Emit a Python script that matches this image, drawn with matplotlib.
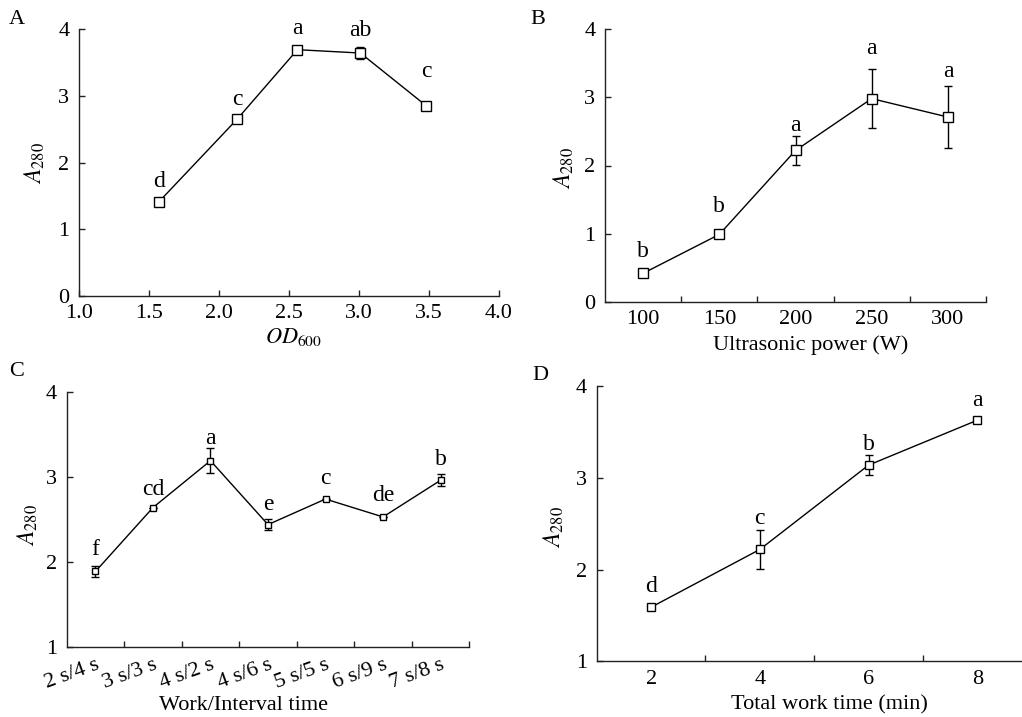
import matplotlib
matplotlib.use("Agg")
import matplotlib.pyplot as plt
import numpy as np

plt.rcParams['font.family'] = ['Liberation Serif', 'DejaVu Serif']
plt.rcParams['mathtext.fontset'] = 'stix'
plt.rcParams['font.size'] = 16

# panel A
A_x = [1.57, 2.13, 2.56, 3.01, 3.48]
A_y = [1.41, 2.65, 3.69, 3.64, 2.85]
A_err = [0.04, 0.04, 0.06, 0.09, 0.03]
A_let = ['d', 'c', 'a', 'ab', 'c']
A_let_y = [1.72, 2.94, 4.00, 3.98, 3.36]

# panel B
B_cat = ['100', '150', '200', '250', '300']
B_y = [0.42, 0.99, 2.22, 2.98, 2.71]
B_err = [0.0, 0.0, 0.21, 0.43, 0.45]
B_let = ['b', 'b', 'a', 'a', 'a']
B_let_y = [0.74, 1.40, 2.58, 3.72, 3.37]

# panel C
C_cat = ['2 s/4 s', '3 s/3 s', '4 s/2 s', '4 s/6 s', '5 s/5 s', '6 s/9 s', '7 s/8 s']
C_y = [1.89, 2.64, 3.19, 2.44, 2.74, 2.53, 2.96]
C_err = [0.06, 0.0, 0.15, 0.06, 0.0, 0.0, 0.07]
C_let = ['f', 'cd', 'a', 'e', 'c', 'de', 'b']
C_let_y = [2.15, 2.85, 3.45, 2.68, 2.98, 2.78, 3.20]

# panel D
D_cat = ['2', '4', '6', '8']
D_y = [1.59, 2.22, 3.14, 3.63]
D_err = [0.0, 0.21, 0.11, 0.0]
D_let = ['d', 'c', 'b', 'a']
D_let_y = [1.82, 2.56, 3.37, 3.84]

W, H = 1022, 717
fig = plt.figure(figsize=(W / 100, H / 100), dpi=100)


def mkax(l, r, t, b):
    return fig.add_axes([l / W, 1 - b / H, (r - l) / W, (b - t) / H])


def style(ax):
    for s in ['top', 'right']:
        ax.spines[s].set_visible(False)
    for s in ['left', 'bottom']:
        ax.spines[s].set_linewidth(1.0)
        ax.spines[s].set_color('#222222')
    ax.tick_params(which='both', direction='in', length=4, width=1.0, color='#222222')
    ax.tick_params(axis='y', pad=7)
    ax.tick_params(axis='x', pad=6)


def draw(ax, x, y, err, ms):
    ax.errorbar(x, y, yerr=err, fmt='-s', color='black', mfc='white', mec='black',
                ms=ms, mew=1.0, lw=1.0, elinewidth=1.0, capsize=3, capthick=1.0,
                clip_on=False)


def letters(ax, x, lets, ly):
    for xi, t, yi in zip(x, lets, ly):
        ax.text(xi, yi, t, ha='center', va='center', fontsize=17)


def cat_axis(ax, cats):
    n = len(cats)
    ax.set_xlim(-0.5, n - 0.5)
    ax.set_xticks(range(n))
    ax.set_xticklabels(cats)
    ax.set_xticks(np.arange(0.5, n - 0.5 + 0.01, 1.0), minor=True)
    ax.tick_params(axis='x', which='major', length=0)


def labels(ax, xl, yl, xpos, ypos):
    ax.set_xlabel(xl, fontsize=16)
    ax.set_ylabel(yl, fontsize=17)
    ax.xaxis.label.set_va('center')
    ax.yaxis.label.set_va('center')
    ax.xaxis.set_label_coords(*xpos)
    ax.yaxis.set_label_coords(*ypos)


ylab = r'$\mathit{A}_{\mathrm{280}}$'

# A
ax = mkax(79, 499, 29, 296)
style(ax)
draw(ax, A_x, A_y, A_err, 7)
letters(ax, A_x, A_let, A_let_y)
ax.set_xlim(1.0, 4.0)
ax.set_ylim(0, 4)
ax.set_xticks(np.arange(1.0, 4.01, 0.5))
ax.set_xticklabels(['%.1f' % v for v in np.arange(1.0, 4.01, 0.5)])
ax.set_yticks(range(0, 5))
labels(ax, r'$\mathit{OD}_{\mathrm{600}}$', ylab, (0.51, -0.154), (-0.105, 0.5))

# B
ax = mkax(605, 986, 29, 302)
style(ax)
bx = np.arange(len(B_cat))
draw(ax, bx, B_y, B_err, 7)
letters(ax, bx, B_let, B_let_y)
cat_axis(ax, B_cat)
ax.set_ylim(0, 4)
ax.set_yticks(range(0, 5))
labels(ax, 'Ultrasonic power (W)', ylab, (0.54, -0.157), (-0.108, 0.49))

# C
ax = mkax(66.7, 469.3, 391.7, 647.3)
style(ax)
cx = np.arange(len(C_cat))
draw(ax, cx, C_y, C_err, 5)
letters(ax, cx, C_let, C_let_y)
cat_axis(ax, C_cat)
for lab in ax.get_xticklabels():
    lab.set_rotation(20)
    lab.set_ha('right')
    lab.set_va('top')
    lab.set_rotation_mode('anchor')
ax.set_ylim(1, 4)
ax.set_yticks(range(1, 5))
labels(ax, 'Work/Interval time', ylab, (0.44, -0.226), (-0.096, 0.48))

# D
ax = mkax(596.7, 1031.7, 386.3, 661.3)
style(ax)
dx = np.arange(len(D_cat))
draw(ax, dx, D_y, D_err, 5.5)
letters(ax, dx, D_let, D_let_y)
cat_axis(ax, D_cat)
ax.set_ylim(1, 4)
ax.set_yticks(range(1, 5))
labels(ax, 'Total work time (min)', ylab, (0.536, -0.159), (-0.098, 0.49))

# panel letters
for t, px, py in [('A', 17, 19), ('B', 538, 19), ('C', 17, 372), ('D', 540, 376)]:
    fig.text(px / W, 1 - py / H, t, ha='center', va='center', fontsize=16)

fig.savefig('out.png', dpi=100)
